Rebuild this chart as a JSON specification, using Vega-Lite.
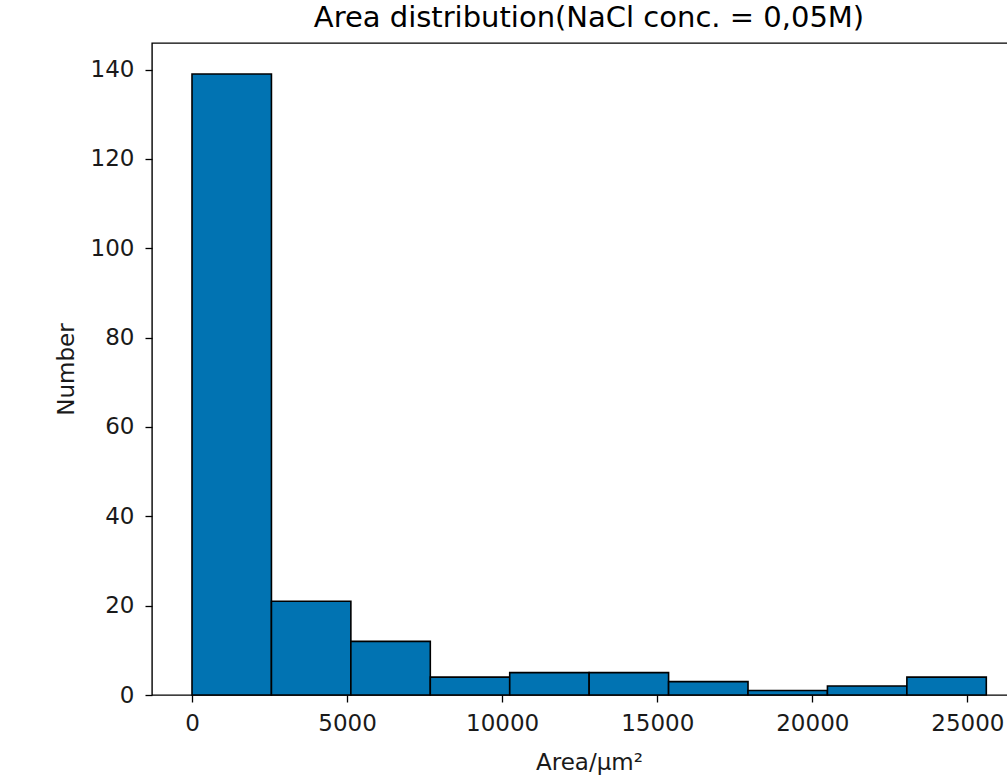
{
  "$schema": "https://vega.github.io/schema/vega-lite/v6.json",
  "autosize": "none",
  "width": 874,
  "height": 652,
  "padding": {"left": 152, "top": 43, "right": 0, "bottom": 88},
  "background": "white",
  "title": {
    "text": "Area distribution(NaCl conc. = 0,05M)",
    "font": "DejaVu Sans",
    "fontSize": 29,
    "fontWeight": "normal",
    "color": "#000000",
    "anchor": "middle",
    "offset": 10
  },
  "data": {
    "values": [
      {"bin_start": 0, "bin_end": 2561, "count": 139},
      {"bin_start": 2561, "bin_end": 5122, "count": 21},
      {"bin_start": 5122, "bin_end": 7683, "count": 12},
      {"bin_start": 7683, "bin_end": 10244, "count": 4},
      {"bin_start": 10244, "bin_end": 12805, "count": 5},
      {"bin_start": 12805, "bin_end": 15366, "count": 5},
      {"bin_start": 15366, "bin_end": 17927, "count": 3},
      {"bin_start": 17927, "bin_end": 20488, "count": 1},
      {"bin_start": 20488, "bin_end": 23049, "count": 2},
      {"bin_start": 23049, "bin_end": 25610, "count": 4}
    ]
  },
  "mark": {"type": "bar", "color": "#0173B2", "stroke": "#000000", "strokeWidth": 1.6},
  "encoding": {
    "x": {
      "field": "bin_start",
      "type": "quantitative",
      "scale": {"domain": [-1290, 26890], "nice": false, "zero": false},
      "axis": {"values": [0, 5000, 10000, 15000, 20000, 25000], "title": "Area/μm²", "format": "d"}
    },
    "x2": {"field": "bin_end"},
    "y": {
      "field": "count",
      "type": "quantitative",
      "scale": {"domain": [0, 145.95], "nice": false},
      "axis": {"values": [0, 20, 40, 60, 80, 100, 120, 140], "title": "Number"}
    },
    "y2": {"datum": 0}
  },
  "config": {
    "view": {"stroke": "#000000", "strokeWidth": 1.4},
    "axis": {
      "grid": false,
      "domain": false,
      "ticks": true,
      "tickColor": "#000000",
      "tickSize": 7,
      "tickWidth": 1.3,
      "labelFont": "DejaVu Sans",
      "labelFontSize": 23,
      "labelColor": "#1a1a1a",
      "titleFont": "DejaVu Sans",
      "titleFontSize": 23,
      "titleFontWeight": "normal",
      "titleColor": "#1a1a1a"
    },
    "axisX": {"titlePadding": 16, "labelPadding": 10},
    "axisY": {"titlePadding": 12, "labelPadding": 11}
  }
}
